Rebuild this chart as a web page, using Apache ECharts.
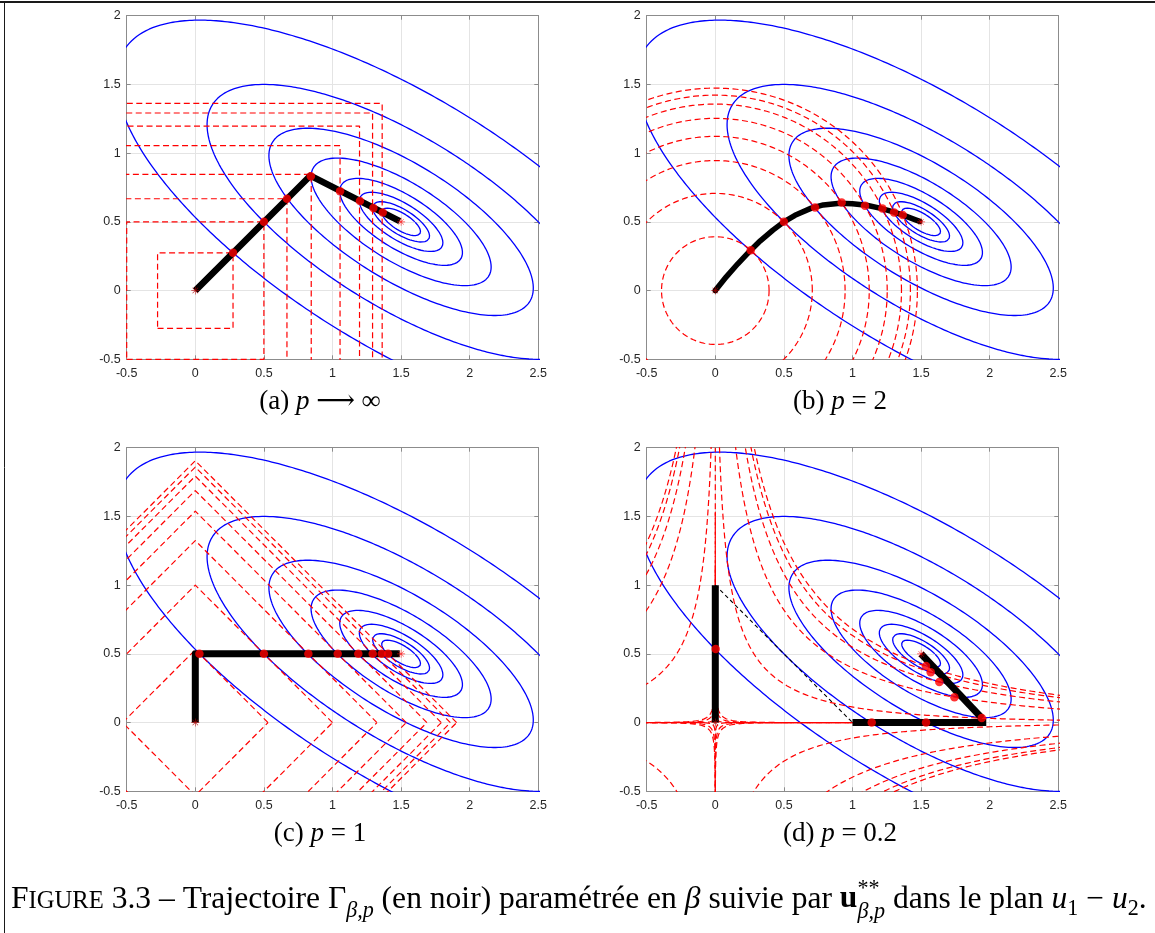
<!DOCTYPE html>
<html><head><meta charset="utf-8">
<script src="https://cdn.jsdelivr.net/npm/echarts@6/dist/echarts.min.js"></script>
<style>html,body{margin:0;padding:0;background:#fff}#c{width:1155px;height:933px}</style>
</head><body><div id="c"></div><script>
// ---------------- data ----------------
const xTickValues = [-0.5, 0, 0.5, 1, 1.5, 2, 2.5];
const xTickLabels = ['-0.5', '0', '0.5', '1', '1.5', '2', '2.5'];
const yTickValues = [-0.5, 0, 0.5, 1, 1.5, 2];
const yTickLabels = ['-0.5', '0', '0.5', '1', '1.5', '2'];

// quadratic cost  a*d1^2 + 2b*d1*d2 + c*d2^2 around its minimum
const costCenter = [1.5, 0.5];
const costForm = [1, 1, 2];
const costLevels = [0.01, 0.0215, 0.0464, 0.1, 0.2154, 0.4642, 1.0, 2.154];

const normOrders = [Infinity, 2, 1, 0.2];
const ballRadiiA = [0.275, 0.5, 0.668, 0.845, 1.055, 1.197, 1.292, 1.362];
const ballRadiiB = [0.392, 0.707, 0.946, 1.122, 1.253, 1.357, 1.422, 1.473];
const ballRadiiC = [0.53, 1.0, 1.324, 1.538, 1.688, 1.793, 1.859, 1.905];
const ballRadiiD = [0.53, 1.14, 1.54, 12.1, 20.6, 23.9, 25.6, 26.5];

const pathA = [[0, 0], [0.838, 0.836], [1.49, 0.505]];
const dotsA = [[0.275, 0.275], [0.5, 0.5], [0.668, 0.668], [0.842, 0.832], [1.055, 0.723], [1.2, 0.651], [1.298, 0.6], [1.366, 0.568]];

const pathB = [[0, 0], [0.08, 0.1], [0.164, 0.195], [0.258, 0.294], [0.328, 0.362], [0.42, 0.44], [0.5, 0.5], [0.581, 0.548], [0.70, 0.60], [0.787, 0.623], [0.909, 0.636], [1.0, 0.632], [1.103, 0.621], [1.2, 0.6], [1.298, 0.573], [1.388, 0.542], [1.45, 0.518], [1.49, 0.503]];
const dotsB = [[0.258, 0.294], [0.5, 0.5], [0.727, 0.605], [0.921, 0.641], [1.091, 0.617], [1.218, 0.598], [1.303, 0.569], [1.366, 0.55]];

const pathC = [[0, 0], [0, 0.5], [1.49, 0.5]];
const dotsC = [[0.03, 0.5], [0.5, 0.5], [0.824, 0.5], [1.038, 0.5], [1.188, 0.5], [1.293, 0.5], [1.359, 0.5], [1.405, 0.5]];

const pathD1 = [[0, 0], [0, 1]];
const jumpD = [[0, 1], [1, 0]];
const pathD2 = [[1, 0], [1.975, 0]];
const pathD3 = [[1.945, 0.03], [1.5, 0.5]];
const dotsD = [[0.003, 0.535], [1.14, 0], [1.536, 0], [1.942, 0.033], [1.743, 0.185], [1.633, 0.295], [1.57, 0.367], [1.536, 0.411]];
const residueD = [[0, 1], [0, 2]];

const startPoint = [[0, 0]];
const optimumPoint = [[1.5, 0.5]];

const panelCaptions = [
  [['(a) ', ''], ['p', 'i'], [' \u27F6 \u221E', '']],
  [['(b) ', ''], ['p', 'i'], [' = 2', '']],
  [['(c) ', ''], ['p', 'i'], [' = 1', '']],
  [['(d) ', ''], ['p', 'i'], [' = 0.2', '']]
];

// ---------------- geometry helpers ----------------
function ellipsePts(L) {
  const [a, b, c] = costForm, pts = [];
  const s1 = Math.sqrt(L / a), s2 = Math.sqrt(L / (c - b * b / a));
  for (let k = 0; k <= 480; k++) {
    const t = 2 * Math.PI * k / 480;
    const d2 = s2 * Math.sin(t);
    const d1 = s1 * Math.cos(t) - (b / a) * d2;
    pts.push([costCenter[0] + d1, costCenter[1] + d2]);
  }
  return pts;
}
function ballPts(p, R) {
  if (p === Infinity) return [[-R, -R], [R, -R], [R, R], [-R, R], [-R, -R]];
  if (p === 1) return [[R, 0], [0, R], [-R, 0], [0, -R], [R, 0]];
  const N = p < 1 ? 16000 : 720, e = 2 / p, pts = [];
  for (let k = 0; k <= N; k++) {
    const t = 2 * Math.PI * k / N, c = Math.cos(t), s = Math.sin(t);
    pts.push([R * Math.sign(c) * Math.pow(Math.abs(c), e), R * Math.sign(s) * Math.pow(Math.abs(s), e)]);
  }
  return pts;
}
function clipSegments(pts) {
  const box = [-0.6, 2.6, -0.6, 2.1];
  const inside = q => q[0] >= box[0] && q[0] <= box[1] && q[1] >= box[2] && q[1] <= box[3];
  const segs = []; let cur = [], prev = null;
  for (const q of pts) {
    if (inside(q)) { if (!cur.length && prev) cur.push(prev); cur.push(q); }
    else if (cur.length) { cur.push(q); segs.push(cur); cur = []; }
    prev = q;
  }
  if (cur.length) segs.push(cur);
  return segs;
}

// ---------------- layout ----------------
const W = 411.6, H = 343.6;
const panels = [{ left: 126.7, top: 15.7 }, { left: 646.7, top: 15.7 }, { left: 126.7, top: 447.7 }, { left: 646.7, top: 447.7 }];
const AX = '#8c8c8c', GRIDC = '#e4e4e4', LAB = '#262626';
const sans = '"Liberation Sans", Arial, Helvetica, sans-serif';
const serif = '"Liberation Serif", "DejaVu Serif", serif';

const fmtX = v => { const k = xTickValues.findIndex(t => Math.abs(t - v) < 1e-9); return k >= 0 ? xTickLabels[k] : ''; };
const fmtY = v => { const k = yTickValues.findIndex(t => Math.abs(t - v) < 1e-9); return k >= 0 ? yTickLabels[k] : ''; };

const option = { animation: false, backgroundColor: '#fff', grid: [], xAxis: [], yAxis: [], series: [], graphic: [] };

panels.forEach((p, i) => {
  option.grid.push({ left: p.left, top: p.top, width: W, height: H, containLabel: false, outerBoundsMode: 'none', show: false });
  const common = { gridIndex: i, type: 'value', interval: 0.5 };
  option.xAxis.push(Object.assign({}, common, { min: -0.5, max: 2.5, position: 'bottom',
    axisLine: { show: true, onZero: false, lineStyle: { color: AX, width: 1 } },
    axisTick: { show: true, inside: true, length: 4, lineStyle: { color: AX } },
    axisLabel: { show: true, margin: 8, fontSize: 12.5, color: LAB, fontFamily: sans, formatter: fmtX, showMinLabel: true, showMaxLabel: true },
    splitLine: { show: true, lineStyle: { color: GRIDC, width: 1 } } }));
  option.xAxis.push(Object.assign({}, common, { min: -0.5, max: 2.5, position: 'top',
    axisLine: { show: true, onZero: false, lineStyle: { color: AX, width: 1 } },
    axisTick: { show: true, inside: true, length: 4, lineStyle: { color: AX } },
    axisLabel: { show: false }, splitLine: { show: false } }));
  option.yAxis.push(Object.assign({}, common, { min: -0.5, max: 2, position: 'left',
    axisLine: { show: true, onZero: false, lineStyle: { color: AX, width: 1 } },
    axisTick: { show: true, inside: true, length: 4, lineStyle: { color: AX } },
    axisLabel: { show: true, margin: 6, fontSize: 12.5, color: LAB, fontFamily: sans, formatter: fmtY, showMinLabel: true, showMaxLabel: true },
    splitLine: { show: true, lineStyle: { color: GRIDC, width: 1 } } }));
  option.yAxis.push(Object.assign({}, common, { min: -0.5, max: 2, position: 'right',
    axisLine: { show: true, onZero: false, lineStyle: { color: AX, width: 1 } },
    axisTick: { show: true, inside: true, length: 4, lineStyle: { color: AX } },
    axisLabel: { show: false }, splitLine: { show: false } }));
});

function line(i, data, color, width, dash, z, cap) {
  return { type: 'line', xAxisIndex: 2 * i, yAxisIndex: 2 * i, data, showSymbol: false, symbol: 'none', silent: true,
    animation: false, clip: true, z, emphasis: { disabled: true },
    lineStyle: { color, width, type: dash || 'solid', cap: cap || 'butt', join: 'round' } };
}
function scatter(i, data, symbol, size, color, z) {
  return { type: 'scatter', xAxisIndex: 2 * i, yAxisIndex: 2 * i, data, symbol, symbolSize: size, silent: true,
    animation: false, z, itemStyle: { color }, emphasis: { disabled: true } };
}
const RED = '#ff0000', BLUE = '#0000ff', DASH = [6, 3.5];
const starPath = 'path://M0,9.2 L20,9.2 L20,10.8 L0,10.8 Z M9.2,0 L10.8,0 L10.8,20 L9.2,20 Z M2.6,3.7 L3.7,2.6 L17.4,16.3 L16.3,17.4 Z M16.3,2.6 L17.4,3.7 L3.7,17.4 L2.6,16.3 Z';

const radiiSets = [ballRadiiA, ballRadiiB, ballRadiiC, ballRadiiD];
for (let i = 0; i < 4; i++) {
  costLevels.forEach(L => option.series.push(line(i, ellipsePts(L), BLUE, 1.3, 'solid', 2)));
  const pOrd = normOrders[i];
  radiiSets[i].forEach(R => {
    const pts = ballPts(pOrd, R);
    if (pOrd < 1) clipSegments(pts).forEach(s => option.series.push(line(i, s, RED, 1.2, DASH, 3)));
    else option.series.push(line(i, pts, RED, 1.2, DASH, 3));
  });
}
option.series.push(line(3, residueD, RED, 1.2, DASH, 3));

// trajectories
option.series.push(line(0, pathA, '#000', 6.5, 'solid', 4));
option.series.push(line(1, pathB, '#000', 5.5, 'solid', 4, 'round'));
option.series.push(line(2, pathC, '#000', 7, 'solid', 4));
option.series.push(line(3, pathD1, '#000', 7, 'solid', 4));
option.series.push(line(3, jumpD, '#000', 1.1, [4, 3], 4));
option.series.push(line(3, pathD2, '#000', 7, 'solid', 4));
option.series.push(line(3, pathD3, '#000', 7, 'solid', 4));

[dotsA, dotsB, dotsC, dotsD].forEach((d, i) => {
  option.series.push(scatter(i, d, 'circle', 8.5, RED, 5));
  option.series.push(scatter(i, startPoint, starPath, 8, '#b00000', 6));
  option.series.push(scatter(i, optimumPoint, starPath, 8, RED, 6));
});

// ---------------- text layout ----------------
const mctx = document.createElement('canvas').getContext('2d');
function fontStr(tok) { return (tok.it ? 'italic ' : 'normal ') + (tok.b ? 'bold ' : 'normal ') + tok.s.toFixed(2) + 'px ' + serif; }
function measure(tok) { mctx.font = fontStr(tok); return mctx.measureText(tok.t).width; }
function placeTokens(tokens, x0, baseY) {
  let x = x0;
  tokens.forEach(tok => {
    const f = fontStr(tok);
    option.graphic.push({ type: 'text', silent: true, z: 10,
      style: { text: tok.t, x: x, y: baseY + (tok.dy || 0) - 0.34 * tok.s, font: f, fill: '#000',
        textAlign: 'left', align: 'left', textVerticalAlign: 'middle', verticalAlign: 'middle' } });
    if (!tok.noAdv) x += measure(tok);
  });
}
function totalWidth(tokens) { return tokens.reduce((w, t) => w + (t.noAdv ? 0 : measure(t)), 0); }

// sub-captions
const capCenters = [[320, 411], [840, 411], [320, 843], [840, 843]];
panelCaptions.forEach((cap, i) => {
  const S = 27;
  const toks = cap.map(([t, st]) => ({ t, s: S, it: st === 'i' }));
  const w = totalWidth(toks);
  placeTokens(toks, capCenters[i][0] - w / 2, capCenters[i][1]);
});

// figure caption
function captionTokens(S) {
  return [
    { t: 'F', s: S }, { t: 'IGURE', s: 0.78 * S }, { t: ' 3.3 \u2013 Trajectoire ', s: S },
    { t: '\u0393', s: S }, { t: '\u03B2,p', s: 0.7 * S, it: true, dy: 0.26 * S },
    { t: ' (en noir) param\u00E9tr\u00E9e en ', s: S }, { t: '\u03B2', s: S, it: true },
    { t: ' suivie par ', s: S }, { t: 'u', s: S, b: true },
    { t: '**', s: 0.7 * S, dy: -0.42 * S, noAdv: true }, { t: '\u03B2,p', s: 0.7 * S, it: true, dy: 0.3 * S },
    { t: ' dans le plan ', s: S }, { t: 'u', s: S, it: true }, { t: '1', s: 0.7 * S, dy: 0.2 * S },
    { t: ' \u2212 ', s: S }, { t: 'u', s: S, it: true }, { t: '2', s: 0.7 * S, dy: 0.2 * S }, { t: '.', s: S }
  ];
}
const w25 = totalWidth(captionTokens(25));
const Sfit = 25 * 1136 / w25;
placeTokens(captionTokens(Sfit), 11, 910);

// frame
option.graphic.push({ type: 'line', silent: true, shape: { x1: 0, y1: 2, x2: 1155, y2: 2 }, style: { stroke: '#1a1a1a', lineWidth: 2 } });
option.graphic.push({ type: 'line', silent: true, shape: { x1: 4.5, y1: 2, x2: 4.5, y2: 933 }, style: { stroke: '#1a1a1a', lineWidth: 1 } });

const chart = echarts.init(document.getElementById('c'), null, { renderer: 'canvas', width: 1155, height: 933 });
chart.setOption(option);
</script></body></html>
